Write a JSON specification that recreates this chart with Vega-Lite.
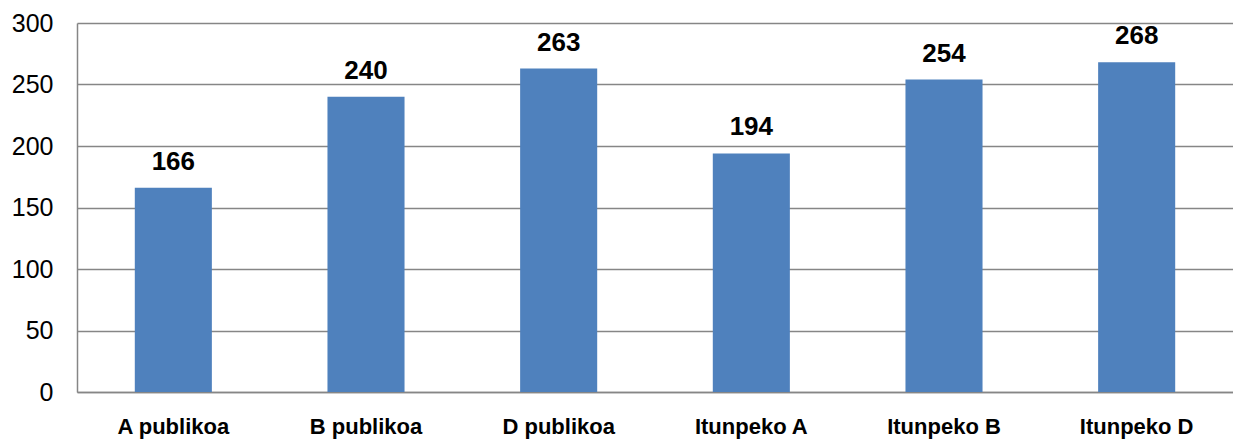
{
  "$schema": "https://vega.github.io/schema/vega-lite/v6.json",
  "autosize": "none",
  "width": 1156,
  "height": 369,
  "padding": {"left": 77, "top": 23, "right": 0, "bottom": 50},
  "background": "white",
  "data": {
    "values": [
      {"categoria": "A publikoa", "valor": 166},
      {"categoria": "B publikoa", "valor": 240},
      {"categoria": "D publikoa", "valor": 263},
      {"categoria": "Itunpeko A", "valor": 194},
      {"categoria": "Itunpeko B", "valor": 254},
      {"categoria": "Itunpeko D", "valor": 268}
    ]
  },
  "config": {
    "view": {"stroke": null},
    "font": "Liberation Sans"
  },
  "encoding": {
    "x": {
      "field": "categoria",
      "type": "nominal",
      "sort": null,
      "scale": {"paddingInner": 0.6, "paddingOuter": 0.3},
      "axis": {
        "title": null,
        "labelAngle": 0,
        "labelFont": "Liberation Sans",
        "labelFontSize": 22,
        "labelFontWeight": "bold",
        "labelColor": "black",
        "labelPadding": 24,
        "ticks": false,
        "domainColor": "#868686",
        "domainWidth": 1.5,
        "grid": false
      }
    },
    "y": {
      "field": "valor",
      "type": "quantitative",
      "scale": {"domain": [0, 300]},
      "axis": {
        "title": null,
        "values": [0, 50, 100, 150, 200, 250, 300],
        "labelFont": "Liberation Sans",
        "labelFontSize": 25,
        "labelColor": "black",
        "labelPadding": 24,
        "ticks": false,
        "domainColor": "#868686",
        "domainWidth": 1.5,
        "gridColor": "#868686",
        "gridWidth": 1.5
      }
    }
  },
  "layer": [
    {
      "mark": {"type": "bar", "color": "#4F81BD"}
    },
    {
      "mark": {
        "type": "text",
        "baseline": "alphabetic",
        "dy": -18,
        "font": "Liberation Sans",
        "fontSize": 26,
        "fontWeight": "bold",
        "color": "black"
      },
      "encoding": {"text": {"field": "valor", "type": "quantitative"}}
    }
  ]
}
